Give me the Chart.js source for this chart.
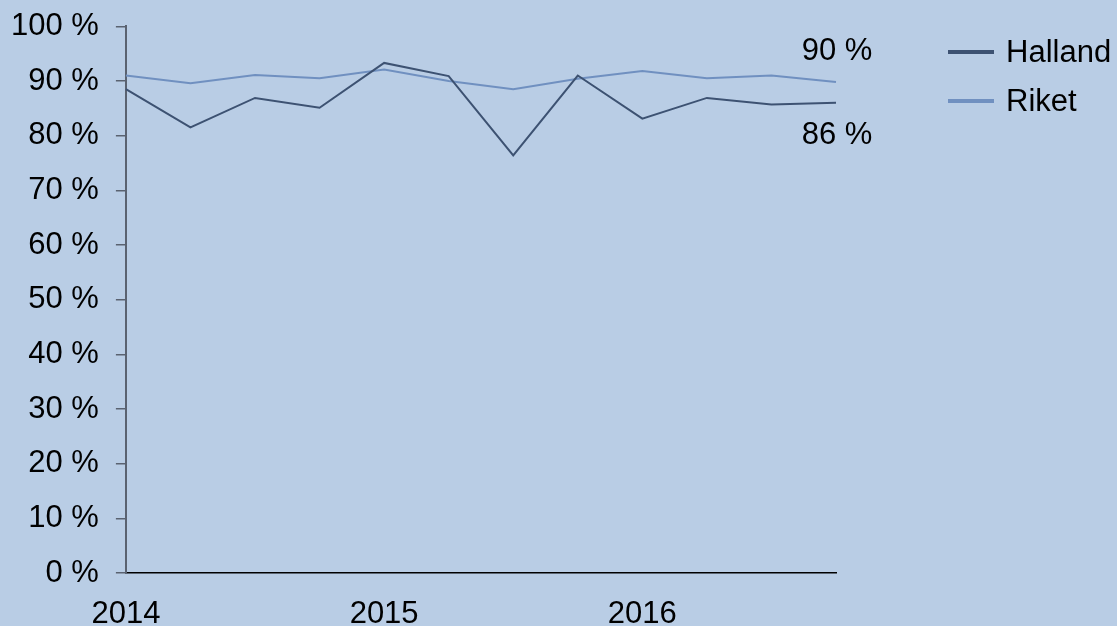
<!DOCTYPE html>
<html>
<head>
<meta charset="utf-8">
<script src="https://cdn.jsdelivr.net/npm/chart.js@4/dist/chart.umd.min.js"></script>
<style>
  html, body { margin: 0; padding: 0; background: #b9cde5; }
  canvas { display: block; }
</style>
</head>
<body>
<canvas id="myChart" width="1117" height="626"></canvas>
<script>
// quarters, 2014 Q1 .. 2016 Q4
const quarters = ['2014 K1', '2014 K2', '2014 K3', '2014 K4',
                  '2015 K1', '2015 K2', '2015 K3', '2015 K4',
                  '2016 K1', '2016 K2', '2016 K3', '2016 K4'];
const halland = [88.5, 81.5, 86.9, 85.1, 93.3, 90.9, 76.4, 91.0, 83.1, 86.9, 85.7, 86.0];
const riket   = [91.0, 89.6, 91.1, 90.5, 92.1, 90.0, 88.5, 90.4, 91.8, 90.5, 91.0, 89.8];
const yTicks  = [0, 10, 20, 30, 40, 50, 60, 70, 80, 90, 100];

const font = 'Arial, "Liberation Sans", sans-serif';
const fontSize = 31;

// end labels + legend on the right
const extras = {
  id: 'extras',
  afterDatasetsDraw(chart) {
    const ctx = chart.ctx;
    ctx.save();
    ctx.font = fontSize + 'px ' + font;
    ctx.fillStyle = '#000';
    ctx.textAlign = 'center';
    ctx.textBaseline = 'middle';
    const h = chart.getDatasetMeta(0).data[halland.length - 1];
    const r = chart.getDatasetMeta(1).data[riket.length - 1];
    ctx.fillText(Math.round(riket[riket.length - 1]) + ' %', r.x + 1, r.y - 31);
    ctx.fillText(Math.round(halland[halland.length - 1]) + ' %', h.x + 1, h.y + 33);

    // legend
    ctx.textAlign = 'left';
    chart.data.datasets.forEach((ds, i) => {
      const y = 52 + i * 49;
      ctx.strokeStyle = ds.borderColor;
      ctx.lineWidth = 4;
      ctx.beginPath();
      ctx.moveTo(948, y);
      ctx.lineTo(994, y);
      ctx.stroke();
      ctx.fillText(ds.label, 1006, y + 1);
    });
    ctx.restore();
  }
};

new Chart(document.getElementById('myChart'), {
  type: 'line',
  data: {
    labels: quarters,
    datasets: [
      { label: 'Halland', data: halland, borderColor: '#3d5272', borderWidth: 2 },
      { label: 'Riket', data: riket, borderColor: '#7090c0', borderWidth: 2 }
    ]
  },
  options: {
    responsive: false,
    animation: false,
    devicePixelRatio: 1,
    layout: { padding: { left: -6, right: 281, top: 16, bottom: -30 } },
    elements: { point: { radius: 0 }, line: { tension: 0 } },
    plugins: { legend: { display: false }, tooltip: { enabled: false } },
    scales: {
      x: {
        offset: false,
        grid: { display: false, drawTicks: false },
        border: { display: true, color: '#000', width: 1.5 },
        ticks: {
          autoSkip: false,
          maxRotation: 0,
          padding: 26,
          color: '#000',
          font: { family: font, size: fontSize, lineHeight: 1 },
          callback: (v, i) => quarters[i].endsWith('K1') ? quarters[i].slice(0, 4) : ''
        }
      },
      y: {
        min: 0,
        max: 100,
        afterBuildTicks: (axis) => { axis.ticks = yTicks.map(v => ({ value: v })); },
        grid: { drawOnChartArea: false, drawTicks: true, tickLength: 10, color: '#5a6270', lineWidth: 1.5 },
        border: { display: true, color: '#5a6270', width: 2 },
        ticks: {
          padding: 17,
          color: '#000',
          font: { family: font, size: fontSize, lineHeight: 0.6 },
          callback: (v) => v + ' %'
        }
      }
    }
  },
  plugins: [extras]
});
</script>
</body>
</html>
